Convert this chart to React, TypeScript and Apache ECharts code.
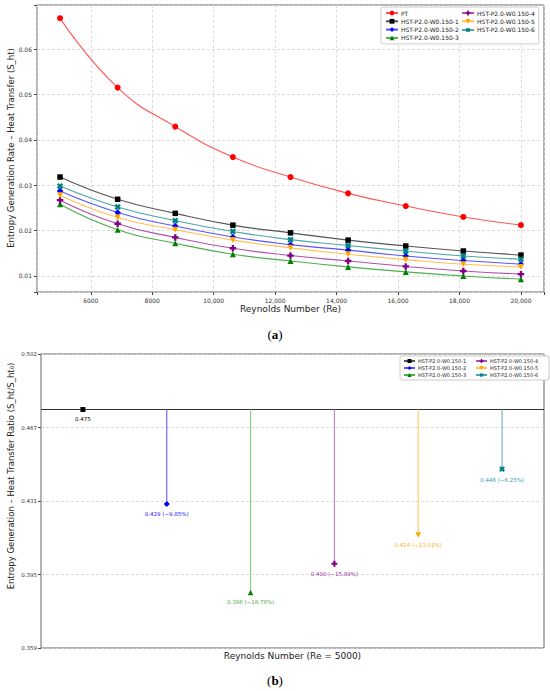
import React, { useEffect, useRef } from "react";
import * as echarts from "echarts";

// ---------- data (top chart) ----------
const reynolds = [5000, 6875, 8750, 10625, 12500, 14375, 16250, 18125, 20000];
const ptValues = [0.0668, 0.0515, 0.0429, 0.0362, 0.0318, 0.0282, 0.0254, 0.023, 0.0212];
const hst1Values = [0.0318, 0.0269, 0.0238, 0.0212, 0.0195, 0.0179, 0.0166, 0.0155, 0.0146];
const hst2Values = [0.0287, 0.024, 0.021, 0.0186, 0.0169, 0.0157, 0.0144, 0.0134, 0.0126];
const hst3Values = [0.0258, 0.0202, 0.0172, 0.0148, 0.0133, 0.012, 0.0109, 0.01, 0.0093];
const hst4Values = [0.0267, 0.0215, 0.0185, 0.0161, 0.0145, 0.0133, 0.0121, 0.0111, 0.0104];
const hst5Values = [0.0278, 0.0229, 0.0202, 0.0179, 0.0162, 0.0148, 0.0136, 0.0126, 0.012];
const hst6Values = [0.0298, 0.0252, 0.0222, 0.0198, 0.018, 0.0167, 0.0155, 0.0144, 0.0137];

const topXTickValues = [6000, 8000, 10000, 12000, 14000, 16000, 18000, 20000];
const topXTickLabels = ["6000", "8000", "10,000", "12,000", "14,000", "16,000", "18,000", "20,000"];
const topYTickValues = [0.01, 0.02, 0.03, 0.04, 0.05, 0.06];
const topYTickLabels = ["0.01", "0.02", "0.03", "0.04", "0.05", "0.06"];

// ---------- data (bottom chart) ----------
const hstNames = [
  "HST-P2.0-W0.150-1",
  "HST-P2.0-W0.150-2",
  "HST-P2.0-W0.150-3",
  "HST-P2.0-W0.150-4",
  "HST-P2.0-W0.150-5",
  "HST-P2.0-W0.150-6",
];
const baselineRatio = 0.475;
const ratioValues = [0.475, 0.429, 0.386, 0.4, 0.414, 0.446];
const ratioLabels = [
  "0.475",
  "0.429 (−9.85%)",
  "0.386 (−18.78%)",
  "0.400 (−15.89%)",
  "0.414 (−13.01%)",
  "0.446 (−6.25%)",
];
const bottomYTickLabels = ["0.359", "0.395", "0.431", "0.467", "0.502"];
const bottomXExtent = [-0.5, 5.5];

// ---------- styles ----------
const PLUS = "path://M3.2,0H6.8V3.2H10V6.8H6.8V10H3.2V6.8H0V3.2H3.2Z";
const markerColors = ["#000000", "#0000ff", "#008000", "#800080", "#ffa500", "#008080"];
const lineColors = ["#555555", "#5555ff", "#4caf4c", "#b050b0", "#ffc04d", "#4da6a6"];
const stemColors = ["#555555", "#6b6bff", "#8ccf8c", "#c98ac9", "#ffcc70", "#70bcbc"];
const labelColors = ["#000000", "#2020ff", "#4caf4c", "#9a309a", "#ffb020", "#30a0a0"];
const symbols = ["rect", "diamond", "triangle", PLUS, "triangle", PLUS];
const symbolRotates = [0, 0, 0, 0, 180, 45];
const symbolSizes = [6, 7, 6.5, 7, 6.5, 7];
const hstValues = [hst1Values, hst2Values, hst3Values, hst4Values, hst5Values, hst6Values];

const FONT = "DejaVu Sans";

function pickLabel(v: number, ticks: number[], labels: string[]) {
  for (let i = 0; i < ticks.length; i++) {
    if (Math.abs(v - ticks[i]) < Math.abs(ticks[i]) * 1e-6 + 1e-9) return labels[i];
  }
  return "";
}

export default function App() {
  const ref = useRef<HTMLDivElement>(null);
  useEffect(() => {
    if (!ref.current) return;
    const chart = echarts.init(ref.current, null, { renderer: "svg" });

    const gridLine = { show: true, lineStyle: { color: "#d4d4d4", width: 0.8, type: [3, 2] as any } };
    const tick = { show: true, inside: false, length: 3, lineStyle: { color: "#444" } };
    const noLine = { show: false, onZero: false };

    const topSeries: any[] = [
      {
        type: "line",
        name: "PT",
        xAxisIndex: 0,
        yAxisIndex: 0,
        data: reynolds.map((x, i) => [x, ptValues[i]]),
        smooth: true,
        symbol: "circle",
        symbolSize: 6,
        itemStyle: { color: "#ff0000" },
        lineStyle: { color: "#ff5555", width: 1.1 },
        z: 3,
      },
      ...hstNames.map((n, k) => ({
        type: "line",
        name: n,
        xAxisIndex: 0,
        yAxisIndex: 0,
        data: reynolds.map((x, i) => [x, hstValues[k][i]]),
        smooth: true,
        symbol: symbols[k],
        symbolRotate: symbolRotates[k],
        symbolSize: symbolSizes[k] - 0.5,
        itemStyle: { color: markerColors[k] },
        lineStyle: { color: lineColors[k], width: 1.1 },
        z: 3,
      })),
    ];

    const baselineSeries: any = {
      type: "line",
      name: "baseline",
      xAxisIndex: 1,
      yAxisIndex: 2,
      data: bottomXExtent.map((x) => [x, baselineRatio]),
      symbol: "none",
      silent: true,
      lineStyle: { color: "#333", width: 1.2 },
      z: 3,
    };

    const bottomSeries: any[] = hstNames.map((n, k) => ({
      type: "line",
      name: n,
      xAxisIndex: 1,
      yAxisIndex: 2,
      data: [
        { value: [k, baselineRatio], symbol: "none", label: { show: false } },
        {
          value: [k, ratioValues[k]],
          label: {
            show: true,
            position: "bottom",
            distance: 4,
            formatter: ratioLabels[k],
            fontSize: 5.5,
            fontFamily: FONT,
            color: labelColors[k],
          },
        },
      ],
      symbol: symbols[k],
      symbolRotate: symbolRotates[k],
      symbolSize: symbolSizes[k] - 1,
      itemStyle: { color: markerColors[k] },
      lineStyle: { color: stemColors[k], width: 1.2 },
      z: 4,
    }));

    const option: any = {
      animation: false,
      backgroundColor: "#ffffff",
      textStyle: { fontFamily: FONT },
      grid: [
        { left: 37, top: 5, width: 507, height: 287, show: true, borderColor: "#666", borderWidth: 1, containLabel: false },
        { left: 41, top: 354, width: 503, height: 294, show: true, borderColor: "#666", borderWidth: 1, containLabel: false },
      ],
      xAxis: [
        {
          type: "value",
          gridIndex: 0,
          min: 4250,
          max: 20750,
          splitNumber: 8,
          axisLine: noLine,
          axisTick: tick,
          splitLine: gridLine,
          axisLabel: {
            fontSize: 6,
            color: "#333",
            margin: 5,
            formatter: (v: number) => pickLabel(v, topXTickValues, topXTickLabels),
          },
          name: "Reynolds Number (Re)",
          nameLocation: "middle",
          nameGap: 12,
          nameTextStyle: { fontSize: 9, color: "#222", verticalAlign: "top" },
        },
        {
          type: "value",
          gridIndex: 1,
          min: bottomXExtent[0],
          max: bottomXExtent[1],
          axisLine: noLine,
          axisTick: { show: false },
          axisLabel: { show: false },
          splitLine: { show: false },
          name: "Reynolds Number (Re = 5000)",
          nameLocation: "middle",
          nameGap: 3,
          nameTextStyle: { fontSize: 9, color: "#222", verticalAlign: "top" },
        },
      ],
      yAxis: [
        {
          type: "value",
          gridIndex: 0,
          min: 0.00647,
          max: 0.0697,
          splitNumber: 6,
          axisLine: noLine,
          axisTick: tick,
          splitLine: gridLine,
          axisLabel: {
            fontSize: 6,
            color: "#333",
            margin: 5,
            formatter: (v: number) => pickLabel(v, topYTickValues, topYTickLabels),
          },
        },
        {
          type: "category",
          gridIndex: 1,
          position: "left",
          data: bottomYTickLabels,
          boundaryGap: false,
          axisLine: noLine,
          axisTick: { show: true, length: 3, lineStyle: { color: "#444" }, alignWithLabel: true },
          splitLine: gridLine,
          axisLabel: { fontSize: 5.5, color: "#333", margin: 4 },
        },
        {
          type: "value",
          gridIndex: 1,
          min: 0.359,
          max: 0.502,
          show: false,
          axisLine: noLine,
          splitLine: { show: false },
        },
      ],
      legend: [
        {
          orient: "vertical",
          left: 381,
          top: 7,
          height: 31,
          padding: [3, 4, 3, 4],
          itemGap: 2.3,
          itemWidth: 12,
          itemHeight: 6,
          backgroundColor: "#fff",
          borderColor: "#ccc",
          borderWidth: 1,
          borderRadius: 2,
          textStyle: { fontSize: 6, color: "#222", width: 62, padding: [0, 0, 0, -2] },
          data: ["PT", ...hstNames],
          selectedMode: false,
        },
        {
          orient: "vertical",
          left: 400,
          top: 356,
          height: 21,
          padding: [2, 3, 2, 3],
          itemGap: 1,
          itemWidth: 11,
          itemHeight: 5,
          backgroundColor: "#fff",
          borderColor: "#ccc",
          borderWidth: 1,
          borderRadius: 2,
          textStyle: { fontSize: 5, lineHeight: 6, color: "#222", width: 56, padding: [0, 0, 0, -2] },
          data: hstNames,
          selectedMode: false,
        },
      ],
      graphic: [
        {
          type: "text",
          x: 11,
          y: 148,
          rotation: Math.PI / 2,
          style: {
            text: "Entropy Generation Rate – Heat Transfer (S_ht)",
            fontSize: 8.5,
            fontFamily: FONT,
            fill: "#222",
            textAlign: "center",
            textVerticalAlign: "middle",
          },
        },
        {
          type: "text",
          x: 11,
          y: 476,
          rotation: Math.PI / 2,
          style: {
            text: "Entropy Generation – Heat Transfer Ratio (S_ht/S_ht₀)",
            fontSize: 8.5,
            fontFamily: FONT,
            fill: "#222",
            textAlign: "center",
            textVerticalAlign: "middle",
          },
        },
        {
          type: "text",
          x: 275,
          y: 334,
          style: {
            text: "({b|a})",
            fontSize: 13,
            fontFamily: "Liberation Serif",
            fill: "#000",
            textAlign: "center",
            textVerticalAlign: "middle",
            rich: { b: { fontSize: 13, fontFamily: "Liberation Serif", fontWeight: "bold", fill: "#000" } },
          },
        },
        {
          type: "text",
          x: 275,
          y: 680,
          style: {
            text: "({b|b})",
            fontSize: 13,
            fontFamily: "Liberation Serif",
            fill: "#000",
            textAlign: "center",
            textVerticalAlign: "middle",
            rich: { b: { fontSize: 13, fontFamily: "Liberation Serif", fontWeight: "bold", fill: "#000" } },
          },
        },
      ],
      series: [...topSeries, baselineSeries, ...bottomSeries],
    };

    chart.setOption(option);
    return () => chart.dispose();
  }, []);

  return (
    <div
      ref={ref}
      style={{ position: "fixed", left: 0, top: 0, width: 550, height: 691, background: "#fff" }}
    />
  );
}
